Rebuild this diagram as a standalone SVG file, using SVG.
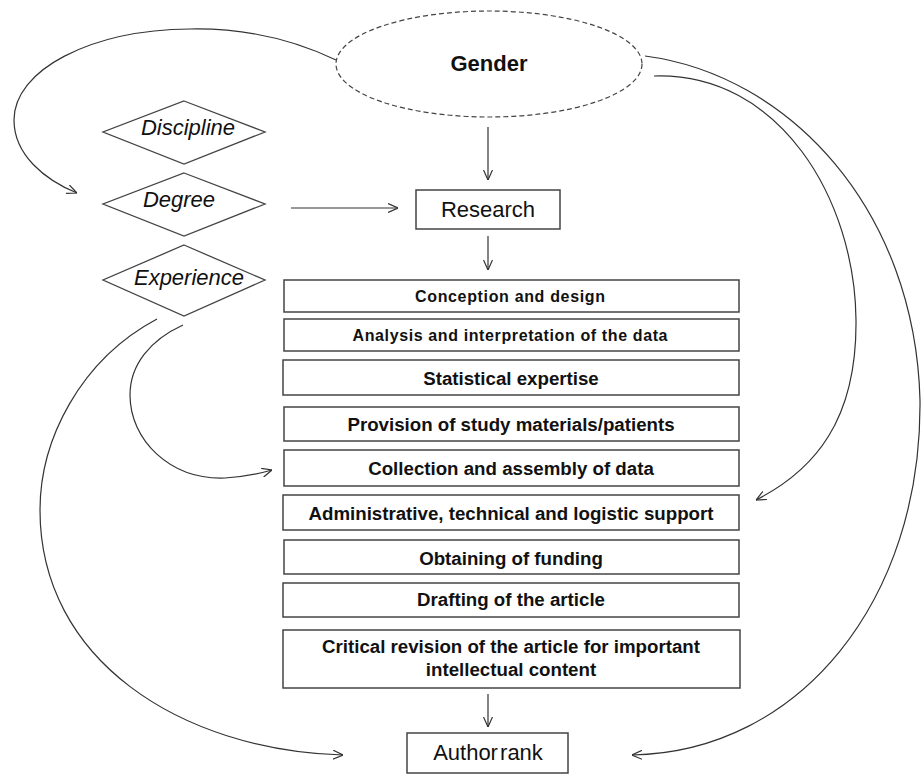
<svg xmlns="http://www.w3.org/2000/svg" width="922" height="775" viewBox="0 0 922 775">
<style>
.box{fill:#fff;stroke:#444;stroke-width:1.5}
.dia{fill:#fff;stroke:#444;stroke-width:1.3}
.lbl{font-family:"Liberation Sans",Arial,sans-serif;fill:#111;text-anchor:middle}
.b15{font-size:18.7px;font-weight:bold}
.sm{font-family:"Liberation Sans",Arial,sans-serif;font-size:16px;font-weight:bold;fill:#111;text-anchor:middle}
.it{font-size:22px;font-style:italic}
.con{fill:none;stroke:#333;stroke-width:1.2;marker-end:url(#ah)}
</style>
<defs>
<marker id="ah" viewBox="0 0 10 10" refX="10" refY="5" markerWidth="10" markerHeight="10" markerUnits="userSpaceOnUse" orient="auto">
<path d="M0,0.5 L10,5 L0,9.5" fill="none" stroke="#333" stroke-width="1.2"/>
</marker>
</defs>
<rect width="922" height="775" fill="#fff"/>
<g id="connectors">
<path class="con" d="M336,60 C290,38 240,28 190,29 C90,30 14,70 14,120 C14,155 45,180 77,193"/>
<path class="con" d="M645,56 C790,75 915,210 920,400 C922,600 800,752 632,755"/>
<path class="con" d="M654,76 C780,72 855,200 856,320 C857,420 815,470 756,500"/>
<path class="con" d="M157,319 C80,360 40,440 40,510 C40,660 180,750 343,755"/>
<path class="con" d="M183,325 C150,340 130,365 130,395 C130,440 170,480 225,478 C245,477 258,474 272,470"/>
<path class="con" d="M291,208 L398,208"/>
<path class="con" d="M488,127 L488,180"/>
<path class="con" d="M488,236 L488,270"/>
<path class="con" d="M488,694 L488,727"/>
</g>
<g id="gender">
<ellipse cx="489" cy="64" rx="153" ry="53" fill="#fff" stroke="#444" stroke-width="1.2" stroke-dasharray="5,3"/>
<text class="lbl" x="489" y="71" font-size="22" font-weight="bold">Gender</text>
</g>
<g id="discipline">
<polygon class="dia" points="184,101 265,132 184,164 103,132"/>
<text class="lbl it" x="188" y="135">Discipline</text>
</g>
<g id="degree">
<polygon class="dia" points="184,173 265,204 184,236 103,204"/>
<text class="lbl it" x="179" y="207">Degree</text>
</g>
<g id="experience">
<polygon class="dia" points="184,245 265,280 184,316 103,280"/>
<text class="lbl it" x="189" y="285">Experience</text>
</g>
<g id="research">
<rect class="box" x="416" y="190" width="144" height="39"/>
<text class="lbl" x="488" y="217" font-size="22">Research</text>
</g>
<g id="conception">
<rect class="box" x="284" y="280" width="455" height="32"/>
<text class="sm" x="510" y="302" textLength="190" lengthAdjust="spacing">Conception and design</text>
</g>
<g id="analysis">
<rect class="box" x="284" y="319" width="455" height="32"/>
<text class="sm" x="510" y="341" textLength="315" lengthAdjust="spacing">Analysis and interpretation of the data</text>
</g>
<g id="statistical">
<rect class="box" x="283" y="360" width="456" height="35"/>
<text class="lbl b15" x="511" y="385">Statistical expertise</text>
</g>
<g id="provision">
<rect class="box" x="284" y="407" width="455" height="34"/>
<text class="lbl b15" x="511" y="431">Provision of study materials/patients</text>
</g>
<g id="collection">
<rect class="box" x="284" y="450" width="455" height="36"/>
<text class="lbl b15" x="511" y="475">Collection and assembly of data</text>
</g>
<g id="administrative">
<rect class="box" x="283" y="495" width="456" height="35"/>
<text class="lbl b15" x="511" y="520">Administrative, technical and logistic support</text>
</g>
<g id="funding">
<rect class="box" x="284" y="540" width="455" height="34"/>
<text class="lbl b15" x="511" y="565">Obtaining of funding</text>
</g>
<g id="drafting">
<rect class="box" x="283" y="583" width="456" height="34"/>
<text class="lbl b15" x="511" y="606">Drafting of the article</text>
</g>
<g id="critical">
<rect class="box" x="283" y="630" width="457" height="58"/>
<text class="lbl b15" x="511" y="653">Critical revision of the article for important</text>
<text class="lbl b15" x="511" y="676">intellectual content</text>
</g>
<g id="authorrank">
<rect class="box" x="407" y="733" width="161" height="40"/>
<text class="lbl" x="488" y="760" font-size="22" word-spacing="-4">Author rank</text>
</g>
</svg>
